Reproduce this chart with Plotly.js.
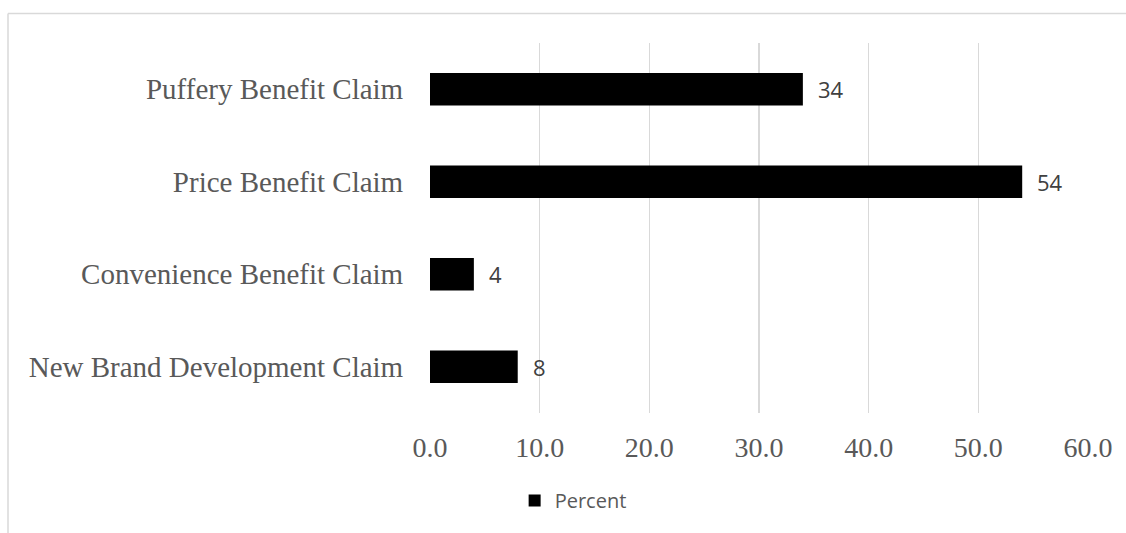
<!DOCTYPE html>
<html>
<head>
<meta charset="utf-8">
<script src="https://cdn.plot.ly/plotly-3.0.1.min.js"></script>
<style>html,body{margin:0;padding:0;background:#fff;}#chart{width:1126px;height:533px;}</style>
</head>
<body>
<div id="chart"></div>
<script>
const categories = ["New Brand Development Claim", "Convenience Benefit Claim", "Price Benefit Claim", "Puffery Benefit Claim"];
const percentValues = [8, 4, 54, 34];
const xTickValues = [0, 10, 20, 30, 40, 50, 60];
const xTickLabels = ["0.0", "10.0", "20.0", "30.0", "40.0", "50.0", "60.0"];
const seriesName = "Percent";

const trace = {
  type: 'bar',
  orientation: 'h',
  y: categories,
  x: percentValues,
  name: seriesName,
  marker: {color: '#000000'},
  hoverinfo: 'x+y'
};

const labelAnnotations = categories.map((c, i) => ({
  x: percentValues[i], y: c, xref: 'x', yref: 'y',
  text: String(percentValues[i]),
  showarrow: false, xanchor: 'left', yanchor: 'middle', xshift: 13,
  font: {family: 'Open Sans, Liberation Sans, sans-serif', size: 22, color: '#404040'}
}));

const W = 1126, H = 533, L = 430, R = 38, T = 43, B = 120;
const pw = W - L - R, ph = H - T - B;
const layout = {
  width: W, height: H,
  margin: {l: L, r: R, t: T, b: B, pad: 0},
  paper_bgcolor: '#ffffff',
  plot_bgcolor: '#ffffff',
  bargap: 0.65,
  showlegend: true,
  legend: {
    orientation: 'h', xref: 'container', yref: 'container',
    x: 0.509, xanchor: 'center', y: 0.061, yanchor: 'middle',
    font: {family: 'Open Sans, Liberation Sans, sans-serif', size: 20, color: '#595959'}
  },
  xaxis: {
    range: [0, 60],
    tickvals: xTickValues,
    ticktext: xTickLabels,
    showgrid: true, gridcolor: '#d9d9d9', gridwidth: 1.5,
    zeroline: false, showline: false,
    ticks: 'outside', ticklen: 9, tickcolor: 'rgba(0,0,0,0)',
    tickfont: {family: 'Liberation Serif, Times New Roman, serif', size: 28, color: '#595959'},
    fixedrange: true
  },
  yaxis: {
    type: 'category',
    showgrid: false, zeroline: false, showline: false,
    ticks: 'outside', ticklen: 20, tickcolor: 'rgba(0,0,0,0)',
    tickfont: {family: 'Liberation Serif, Times New Roman, serif', size: 29, color: '#595959'},
    fixedrange: true
  },
  annotations: labelAnnotations,
  shapes: [
    {type: 'line', xref: 'paper', yref: 'paper',
     x0: (8 - L) / pw, x1: (8 - L) / pw, y0: (H - B - 13.5) / ph, y1: (H - B - 560) / ph,
     line: {color: '#d9d9d9', width: 1.5}},
    {type: 'line', xref: 'paper', yref: 'paper',
     x0: (8 - L) / pw, x1: (1200 - L) / pw, y0: (H - B - 13.5) / ph, y1: (H - B - 13.5) / ph,
     line: {color: '#d9d9d9', width: 1.5}}
  ]
};

Plotly.newPlot('chart', [trace], layout, {displayModeBar: false, staticPlot: true});
</script>
</body>
</html>
